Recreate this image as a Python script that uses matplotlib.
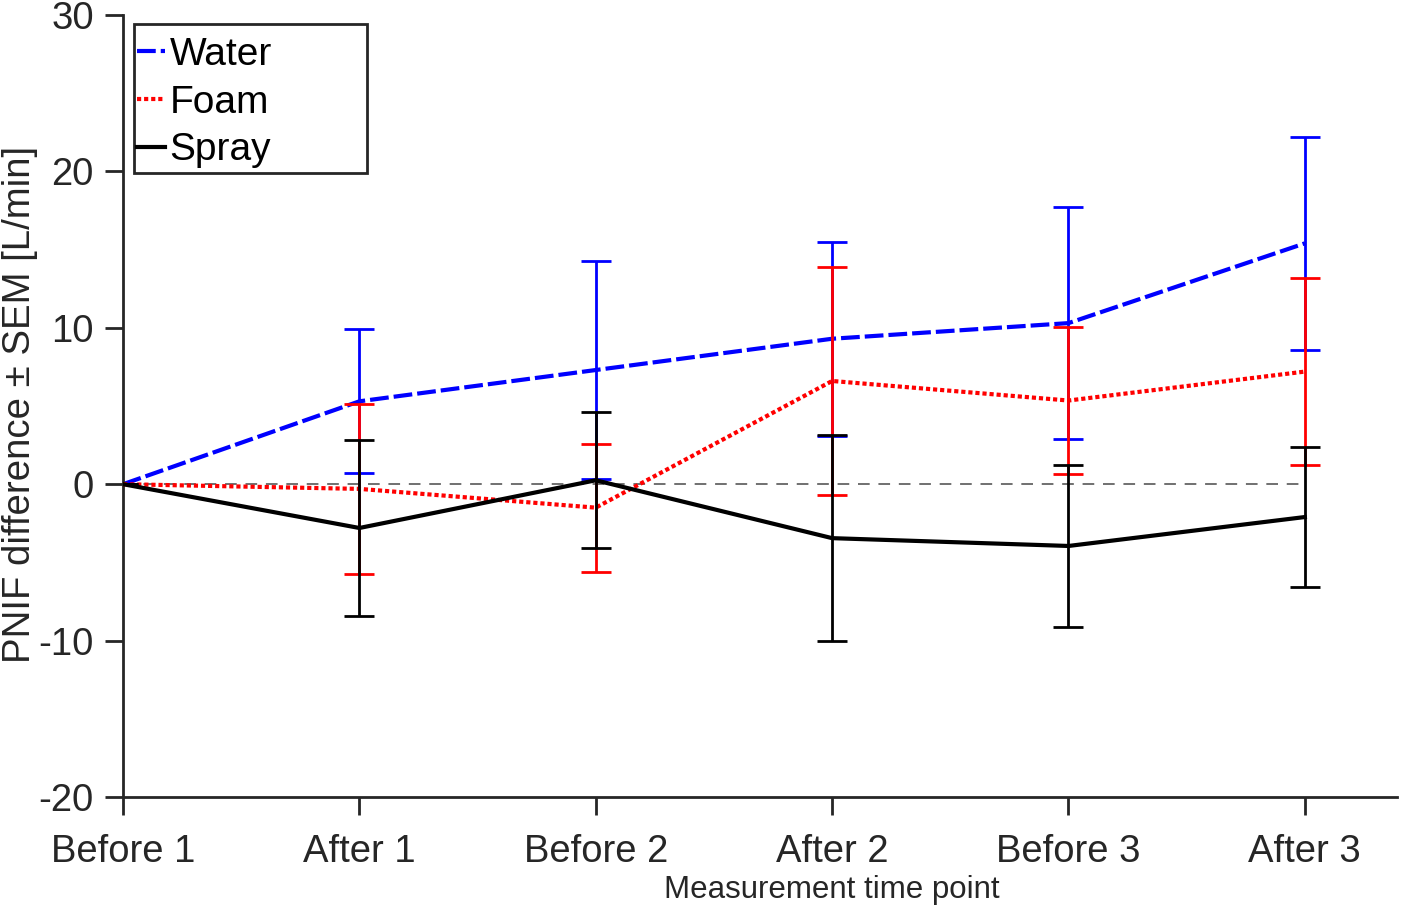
import matplotlib
matplotlib.use("Agg")
import matplotlib.pyplot as plt
from matplotlib.lines import Line2D
from matplotlib.patches import Rectangle
import numpy as np

plt.rcParams['font.family'] = ['Liberation Sans', 'DejaVu Sans']
plt.rcParams['axes.unicode_minus'] = False

categories = ["Before 1", "After 1", "Before 2", "After 2", "Before 3", "After 3"]
water_mean = [0, 5.3, 7.3, 9.3, 10.3, 15.4]
water_sem = [0, 4.6, 6.95, 6.2, 7.4, 6.8]
foam_mean = [0, -0.3, -1.5, 6.6, 5.35, 7.2]
foam_sem = [0, 5.45, 4.1, 7.3, 4.7, 6.0]
spray_mean = [0, -2.8, 0.25, -3.45, -3.95, -2.1]
spray_sem = [0, 5.6, 4.35, 6.6, 5.15, 4.45]

x = np.arange(len(categories))
fig = plt.figure(figsize=(14.16, 9.10), dpi=100)
ax = fig.add_axes([0.0869, 0.1242, 0.8997, 0.8593])

tc = '#262626'
ax.plot([x[0], x[-1]], [0, 0], ls=(0, (6, 4.5)), color='#707070', lw=1.4, zorder=1)

ew = 2.0
water_ls = (0, (4.5, 1.2))
foam_ls = (0, (1, 0.7))
ax.errorbar(x, water_mean, yerr=water_sem, color='blue', ls=water_ls, lw=3,
            elinewidth=ew, capsize=11, capthick=ew, zorder=2)
ax.errorbar(x, foam_mean, yerr=foam_sem, color='red', ls=foam_ls, lw=3,
            elinewidth=ew, capsize=11, capthick=ew, zorder=3)
ax.errorbar(x, spray_mean, yerr=spray_sem, color='black', ls='-', lw=3,
            elinewidth=ew, capsize=11, capthick=ew, zorder=4)

ax.set_xlim(0, 5.39)
ax.set_ylim(-20, 30)
ax.set_xticks(x)
ax.set_xticklabels(categories)
ax.set_yticks([-20, -10, 0, 10, 20, 30])
for s in ['top', 'right']:
    ax.spines[s].set_visible(False)
for s in ['left', 'bottom']:
    ax.spines[s].set_color(tc)
    ax.spines[s].set_linewidth(2)
ax.tick_params(axis='both', direction='out', length=13, width=2, color=tc,
               labelsize=27.5, labelcolor=tc)
ax.tick_params(axis='x', pad=14)
ax.tick_params(axis='y', pad=8)
ax.set_xlabel('Measurement time point', fontsize=22.5, color=tc,
              va='center', ha='center')
ax.xaxis.set_label_coords(0.556, -0.119)
ax.set_ylabel('PNIF difference ± SEM [L/min]', fontsize=27.6, color=tc,
              va='center', ha='center')
ax.yaxis.set_label_coords(-0.081, 0.5026)

def axx(px):
    return (px - 123) / 1274

def axy(py):
    return (797 - py) / 782

handles = [Line2D([], [], color='blue', ls=water_ls, lw=3),
           Line2D([], [], color='red', ls=foam_ls, lw=3),
           Line2D([], [], color='black', ls='-', lw=3)]
leg = ax.legend(handles, ['Water', 'Foam', 'Spray'], loc='upper left',
                bbox_to_anchor=(axx(137), axy(37)),
                fontsize=28, handlelength=0.72, handletextpad=0.12,
                borderpad=0, labelspacing=0.30, frameon=False,
                borderaxespad=0)
frame = Rectangle((axx(134), axy(173)), axx(367) - axx(134), axy(24) - axy(173),
                  transform=ax.transAxes, fill=True, facecolor='white',
                  edgecolor=tc, lw=2, zorder=5)
ax.add_patch(frame)
leg.set_zorder(6)

fig.savefig('out.png', dpi=100)
